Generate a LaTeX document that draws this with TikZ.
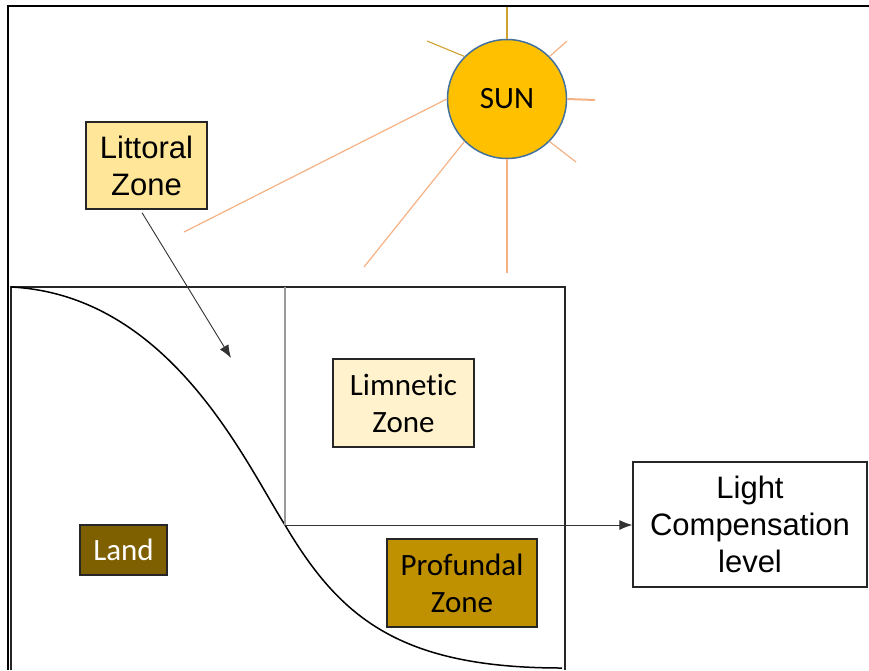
\documentclass[tikz,border=0pt]{standalone}
\usepackage{fontspec}
\usetikzlibrary{arrows.meta}
\newfontfamily\arialfont{Liberation Sans}
\newfontfamily\calibrifont[Ligatures=CommonOff]{Carlito}

\definecolor{sunfill}{HTML}{FFC000}
\definecolor{sunedge}{HTML}{41719C}
\definecolor{raylight}{HTML}{F4B183}
\definecolor{raygold}{HTML}{D0A030}
\definecolor{littoralfill}{HTML}{FFE699}
\definecolor{limneticfill}{HTML}{FFF2CC}
\definecolor{landfill}{HTML}{7F6000}
\definecolor{profundalfill}{HTML}{BF9000}
\definecolor{divider}{HTML}{9A9A9A}

\tikzset{
  zonebox/.style={draw=black!85, line width=1.3pt, inner sep=0pt, align=center,
    font=\fontsize{31}{37}\selectfont},
  ray/.style={line width=1.2pt, draw=raylight},
  pointer/.style={-{Latex[length=13pt,width=10pt]}, line width=0.9pt, draw=black!80},
}

\begin{document}
\begin{tikzpicture}[x=1pt, y=-1pt]
  \useasboundingbox (0,0) rectangle (869,670);

  % outer frame (top and left edges only)
  \draw[line width=2.4pt] (8,670) -- (8,6) -- (869,6);

  % lake basin
  \coordinate (basinTL) at (11,287);
  \coordinate (basinTR) at (565,287);
  \coordinate (inflect) at (285,525);
  \draw[line width=1.5pt, black!85] (11,670) -- (basinTL) -- (basinTR) -- (565,670);

  % shore profile
  \draw[line width=1.5pt] (basinTL) .. controls (170,295) and (245,462) .. (inflect)
        .. controls (340,618) and (400,668) .. (562,668);

  % littoral / limnetic divider
  \draw[line width=1.4pt, divider] (inflect) -- (inflect |- basinTL);

  % sun and rays
  \node[circle, minimum size=119pt, inner sep=0pt, fill=sunfill, draw=sunedge,
        line width=1.5pt, font=\calibrifont\fontsize{31}{37}\selectfont] (sun) at (507,99) {SUN};
  \draw[ray, draw=raygold, line width=1.1pt] (sun.north) -- (507,7);
  \draw[ray, draw=raygold, line width=1.1pt] (sun.135) -- (427,41);
  \draw[ray] (sun.45) -- (567,41);
  \draw[ray, line width=2pt] (sun.0) -- (595,100);
  \draw[ray] (sun.-45) -- (576,162);
  \draw[ray] (sun.south) -- (507,273);
  \draw[ray] (sun.-135) -- (364,267);
  \draw[ray] (sun.180) -- (184,232);

  % zone labels
  \node[zonebox, fill=littoralfill, minimum width=121pt, minimum height=87pt,
        font=\arialfont\fontsize{31}{37}\selectfont] (littoral) at (146.5,165.5) {Littoral\\Zone};
  \node[zonebox, fill=limneticfill, minimum width=141pt, minimum height=88pt,
        font=\calibrifont\fontsize{31}{37}\selectfont] (limnetic) at (403.5,403) {Limnetic\\Zone};
  \node[zonebox, fill=landfill, text=white, minimum width=87pt, minimum height=50pt,
        font=\calibrifont\fontsize{31}{37}\selectfont] (land) at (123.5,550) {Land};
  \node[zonebox, fill=profundalfill, minimum width=150pt, minimum height=88pt,
        font=\calibrifont\fontsize{31}{37}\selectfont] (profundal) at (462,583) {Profundal\\Zone};
  \node[zonebox, fill=white, minimum width=234pt, minimum height=125pt,
        font=\arialfont\fontsize{31}{37}\selectfont] (light) at (750,524.5) {Light\\Compensation\\level};

  % pointers
  \coordinate (littoralTip) at (231,358);
  \draw[pointer] ([shift={(-4.5,3)}]littoral.south) -- (littoralTip);
  \draw[pointer] (inflect) -- (inflect -| light.west);
\end{tikzpicture}
\end{document}
